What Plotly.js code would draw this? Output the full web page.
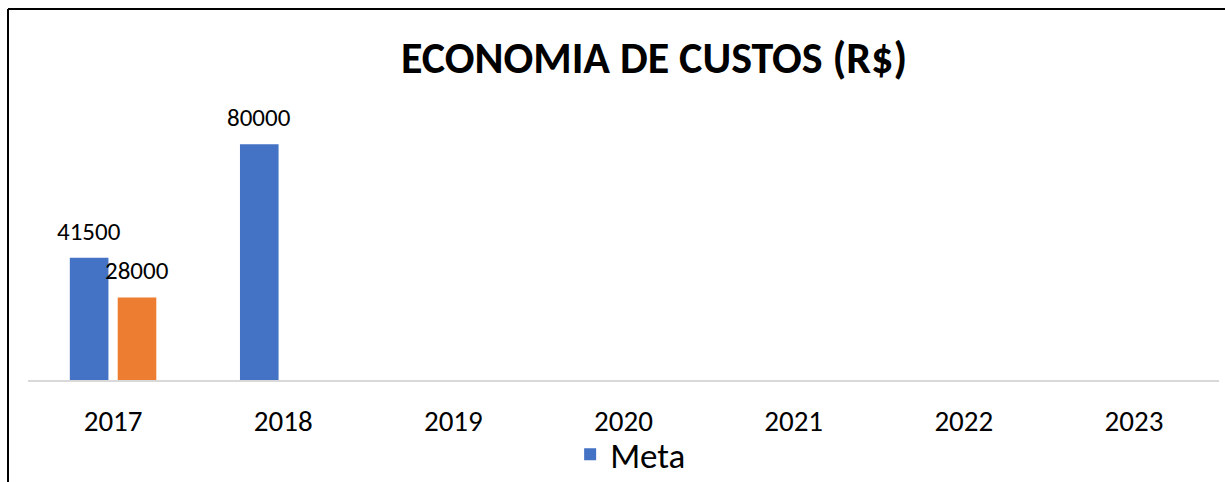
<!DOCTYPE html>
<html>
<head>
<meta charset="utf-8">
<script src="https://cdn.plot.ly/plotly-3.0.1.min.js"></script>
<style>
html,body{margin:0;padding:0;background:#fff;}
#chart{width:1225px;height:482px;}
</style>
</head>
<body>
<div id="chart"></div>
<script>
const categories = ["2017","2018","2019","2020","2021","2022","2023"];
const metaValues = [41500, 80000, null, null, null, null, null];
const realizadoValues = [28000, null, null, null, null, null, null];
const seriesNames = ["Meta", "Realizado"];
const chartTitle = "ECONOMIA DE CUSTOS (R$)";

const FONT = "Carlito, Calibri, 'Liberation Sans', Arial, sans-serif";
const TITLE_FONT = "Carlito, Calibri, 'Liberation Sans', Arial, sans-serif";

const L = 28, R = 6, T = 100, B = 102, W = 1225, H = 482;
const plotW = W - L - R, plotH = H - T - B;
const yMax = 95000;

const traces = [
  {type:'bar', name:seriesNames[0], x:categories, y:metaValues,
   marker:{color:'#4472C4'}, showlegend:true, hoverinfo:'x+y'},
  {type:'bar', name:seriesNames[1], x:categories, y:realizadoValues,
   marker:{color:'#ED7D31'}, showlegend:false, hoverinfo:'x+y'}
];

// data labels as annotations above bars
const catW = plotW / categories.length;
const bargap = 0.437;
const slotW = catW * (1 - bargap) / 2;
const annotations = [];
[metaValues, realizadoValues].forEach((vals, si) => {
  vals.forEach((v, i) => {
    if (v === null) return;
    annotations.push({
      x: i, y: v, xref:'x', yref:'y',
      text: String(v), showarrow:false,
      xshift: (si - 0.5) * slotW, yshift: 9,
      yanchor:'bottom', xanchor:'center',
      font:{family:FONT, size:25, color:'#000'}
    });
  });
});

const px2x = p => (p - L) / plotW;
const py2y = p => (H - B - p) / plotH;

const layout = {
  width:W, height:H,
  margin:{l:L, r:R, t:T, b:B, pad:0, autoexpand:false},
  paper_bgcolor:'#fff', plot_bgcolor:'#fff',
  title:{text:'<b>' + chartTitle + '</b>', xref:'container', yref:'container',
         x:654/W, xanchor:'center', y:1 - 58/H, yanchor:'middle',
         font:{family:TITLE_FONT, size:44, color:'#000'}},
  barmode:'group', bargap:bargap, bargroupgap:0.194,
  xaxis:{type:'category', categoryorder:'array', categoryarray:categories,
         range:[-0.5, categories.length - 0.5], autorange:false,
         showline:true, linecolor:'#D9D9D9', linewidth:2,
         showgrid:false, zeroline:false, ticks:'', fixedrange:true,
         tickfont:{family:FONT, size:29, color:'#000'}, ticklabelstandoff:14},
  yaxis:{range:[0, yMax], autorange:false, visible:false, showgrid:false, zeroline:false, fixedrange:true},
  showlegend:true,
  legend:{orientation:'h', x:0.506, xanchor:'center', y:py2y(425), yanchor:'top',
          font:{family:FONT, size:35, color:'#000'}, bgcolor:'rgba(0,0,0,0)'},
  annotations:annotations,
  shapes:[
    {type:'line', xref:'paper', yref:'paper', x0:px2x(8), x1:px2x(8), y0:py2y(9), y1:py2y(490),
     line:{color:'#000', width:2}},
    {type:'line', xref:'paper', yref:'paper', x0:px2x(8), x1:px2x(1230), y0:py2y(9), y1:py2y(9),
     line:{color:'#000', width:2}}
  ]
};

Plotly.newPlot('chart', traces, layout, {displayModeBar:false, staticPlot:true});
</script>
</body>
</html>
